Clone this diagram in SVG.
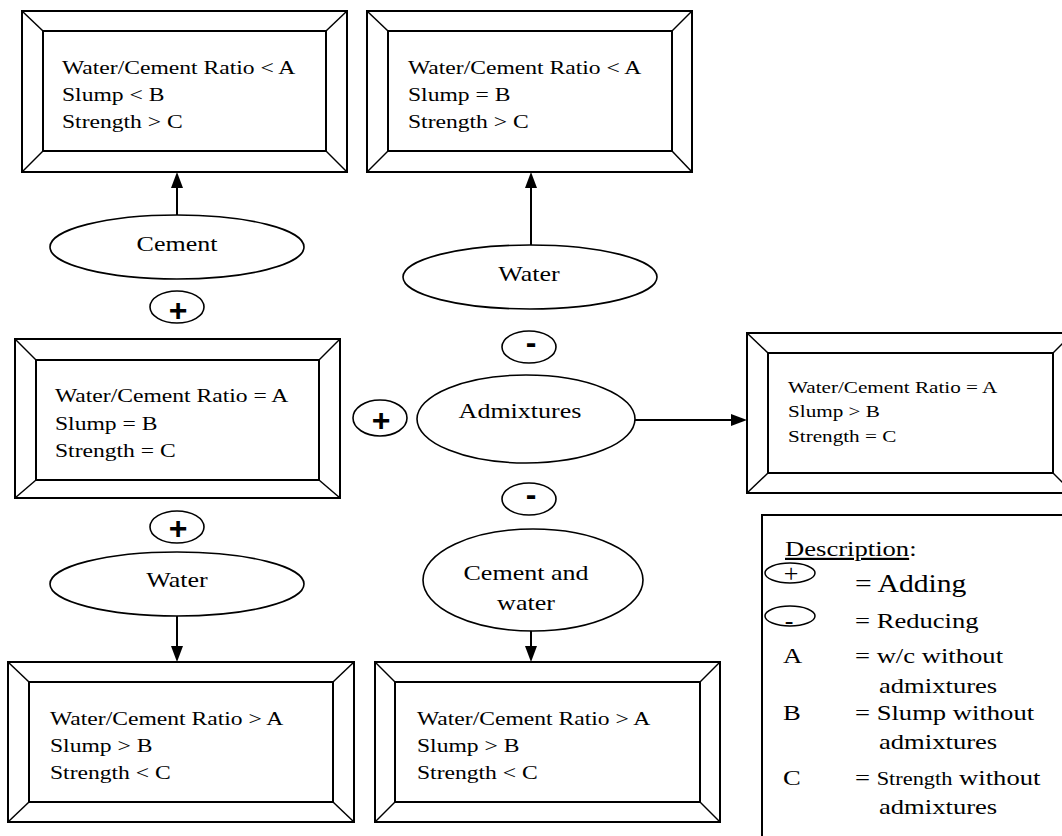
<svg xmlns="http://www.w3.org/2000/svg" width="1062" height="836" viewBox="0 0 1062 836">
<style>
.bg{fill:#fff}
.bx{fill:#fff;stroke:#000;stroke-width:2}
.bv{stroke:#000;stroke-width:1.5}
.el{fill:#fff;stroke:#000;stroke-width:1.6}
.t{font-family:"Liberation Serif","Times New Roman",serif;font-size:19.5px;fill:#000}
.ts{font-size:17.5px}
.c{text-anchor:middle;font-size:21.5px}
.op{font-family:"Liberation Sans",Arial,sans-serif;font-weight:bold;font-size:32px;text-anchor:middle;fill:#000}
.lg{font-family:"Liberation Serif","Times New Roman",serif;font-size:22px;fill:#000}
.cn line{stroke:#000;stroke-width:2;marker-end:url(#ah)}
</style>
<defs>
<marker id="ah" viewBox="0 0 16 12" refX="12" refY="6" markerWidth="16" markerHeight="12" markerUnits="userSpaceOnUse" orient="auto">
<path d="M0,0 L16,6 L0,12 z" fill="#000"/>
</marker>
</defs>
<rect class="bg" x="0" y="0" width="1062" height="836"/>

<g id="box-top-left">
<rect class="bx" x="22" y="11" width="325" height="161"/>
<rect class="bx" x="43" y="31" width="283" height="120"/>
<line class="bv" x1="22" y1="11" x2="43" y2="31"/><line class="bv" x1="347" y1="11" x2="326" y2="31"/>
<line class="bv" x1="22" y1="172" x2="43" y2="151"/><line class="bv" x1="347" y1="172" x2="326" y2="151"/>
<text class="t" transform="translate(62,74) scale(1.21,1)">Water/Cement Ratio &lt; A</text>
<text class="t" transform="translate(62,101) scale(1.21,1)">Slump &lt; B</text>
<text class="t" transform="translate(62,128) scale(1.21,1)">Strength &gt; C</text>
</g>

<g id="box-top-middle">
<rect class="bx" x="367" y="11" width="325" height="161"/>
<rect class="bx" x="388" y="31" width="284" height="120"/>
<line class="bv" x1="367" y1="11" x2="388" y2="31"/><line class="bv" x1="692" y1="11" x2="672" y2="31"/>
<line class="bv" x1="367" y1="172" x2="388" y2="151"/><line class="bv" x1="692" y1="172" x2="672" y2="151"/>
<text class="t" transform="translate(408,74) scale(1.21,1)">Water/Cement Ratio &lt; A</text>
<text class="t" transform="translate(408,101) scale(1.21,1)">Slump = B</text>
<text class="t" transform="translate(408,128) scale(1.21,1)">Strength &gt; C</text>
</g>

<g id="box-middle-left">
<rect class="bx" x="15" y="339" width="325" height="159"/>
<rect class="bx" x="36" y="360" width="283" height="120"/>
<line class="bv" x1="15" y1="339" x2="36" y2="360"/><line class="bv" x1="340" y1="339" x2="319" y2="360"/>
<line class="bv" x1="15" y1="498" x2="36" y2="480"/><line class="bv" x1="340" y1="498" x2="319" y2="480"/>
<text class="t" transform="translate(55,402) scale(1.21,1)">Water/Cement Ratio = A</text>
<text class="t" transform="translate(55,430) scale(1.21,1)">Slump = B</text>
<text class="t" transform="translate(55,457) scale(1.21,1)">Strength = C</text>
</g>

<g id="box-bottom-left">
<rect class="bx" x="8" y="662" width="346" height="160"/>
<rect class="bx" x="29" y="682" width="304" height="120"/>
<line class="bv" x1="8" y1="662" x2="29" y2="682"/><line class="bv" x1="354" y1="662" x2="333" y2="682"/>
<line class="bv" x1="8" y1="822" x2="29" y2="802"/><line class="bv" x1="354" y1="822" x2="333" y2="802"/>
<text class="t" transform="translate(50,725) scale(1.21,1)">Water/Cement Ratio &gt; A</text>
<text class="t" transform="translate(50,752) scale(1.21,1)">Slump &gt; B</text>
<text class="t" transform="translate(50,779) scale(1.21,1)">Strength &lt; C</text>
</g>

<g id="box-bottom-middle">
<rect class="bx" x="375" y="662" width="345" height="160"/>
<rect class="bx" x="395" y="682" width="305" height="120"/>
<line class="bv" x1="375" y1="662" x2="395" y2="682"/><line class="bv" x1="720" y1="662" x2="700" y2="682"/>
<line class="bv" x1="375" y1="822" x2="395" y2="802"/><line class="bv" x1="720" y1="822" x2="700" y2="802"/>
<text class="t" transform="translate(417,725) scale(1.21,1)">Water/Cement Ratio &gt; A</text>
<text class="t" transform="translate(417,752) scale(1.21,1)">Slump &gt; B</text>
<text class="t" transform="translate(417,779) scale(1.21,1)">Strength &lt; C</text>
</g>

<g id="box-right">
<rect class="bx" x="747" y="333" width="326" height="160"/>
<rect class="bx" x="768" y="353" width="285" height="120"/>
<line class="bv" x1="747" y1="333" x2="768" y2="353"/><line class="bv" x1="1073" y1="333" x2="1053" y2="353"/>
<line class="bv" x1="747" y1="493" x2="768" y2="473"/><line class="bv" x1="1073" y1="493" x2="1053" y2="473"/>
<text class="t ts" transform="translate(788,393) scale(1.21,1)">Water/Cement Ratio = A</text>
<text class="t ts" transform="translate(788,417) scale(1.21,1)">Slump &gt; B</text>
<text class="t ts" transform="translate(788,442) scale(1.21,1)">Strength = C</text>
</g>

<g id="cement">
<ellipse class="el" cx="177" cy="247" rx="127" ry="32"/>
<text class="t c" transform="translate(177,251) scale(1.21,1)">Cement</text>
</g>
<g id="water-top">
<ellipse class="el" cx="530" cy="277" rx="127" ry="32"/>
<text class="t c" transform="translate(529,281) scale(1.21,1)">Water</text>
</g>
<g id="admixtures">
<ellipse class="el" cx="526" cy="419" rx="109" ry="44"/>
<text class="t c" transform="translate(520,418) scale(1.21,1)">Admixtures</text>
</g>
<g id="water-bottom">
<ellipse class="el" cx="177" cy="584" rx="127" ry="32"/>
<text class="t c" transform="translate(177,587) scale(1.21,1)">Water</text>
</g>
<g id="cement-and-water">
<ellipse class="el" cx="533" cy="580" rx="110" ry="51"/>
<text class="t c" transform="translate(526,580) scale(1.21,1)">Cement and</text>
<text class="t c" transform="translate(526,610) scale(1.21,1)">water</text>
</g>

<g id="plus-1"><ellipse class="el" cx="177" cy="307" rx="27" ry="16"/><text class="op" x="178" y="321">+</text></g>
<g id="plus-2"><ellipse class="el" cx="177" cy="527" rx="27" ry="16"/><text class="op" x="178" y="539">+</text></g>
<g id="plus-3"><ellipse class="el" cx="380" cy="418" rx="27" ry="18"/><text class="op" x="381" y="431">+</text></g>
<g id="minus-1"><ellipse class="el" cx="529" cy="347" rx="27" ry="16"/><text class="op" x="531" y="353">-</text></g>
<g id="minus-2"><ellipse class="el" cx="529" cy="499" rx="27" ry="16"/><text class="op" x="531" y="505">-</text></g>

<g id="connectors" class="cn">
<line x1="177" y1="215" x2="177" y2="176"/>
<line x1="531" y1="245" x2="531" y2="176"/>
<line x1="635" y1="420" x2="743" y2="420"/>
<line x1="177" y1="616" x2="177" y2="658"/>
<line x1="531" y1="631" x2="531" y2="658"/>
</g>

<g id="legend">
<rect x="762" y="515" width="320" height="340" fill="#fff" stroke="#000" stroke-width="2"/>
<text class="lg" transform="translate(785,556) scale(1.21,1)"><tspan text-decoration="underline">Description</tspan>:</text>
<ellipse cx="790" cy="573" rx="25" ry="10" fill="none" stroke="#000" stroke-width="1.5"/>
<text class="lg" x="791" y="582" text-anchor="middle" style="font-size:26px">+</text>
<text class="lg" transform="translate(855,592) scale(1.21,1)" style="font-size:24.5px">= Adding</text>
<ellipse cx="790" cy="616" rx="25" ry="10" fill="none" stroke="#000" stroke-width="1.5"/>
<text class="lg" x="789" y="629" text-anchor="middle" style="font-size:26px">-</text>
<text class="lg" transform="translate(855,628) scale(1.21,1)">= Reducing</text>
<text class="lg" transform="translate(783,663) scale(1.21,1)">A</text>
<text class="lg" transform="translate(855,663) scale(1.21,1)">= w/c without</text>
<text class="lg" transform="translate(879,693) scale(1.21,1)">admixtures</text>
<text class="lg" transform="translate(783,720) scale(1.21,1)">B</text>
<text class="lg" transform="translate(855,720) scale(1.21,1)">= Slump without</text>
<text class="lg" transform="translate(879,749) scale(1.21,1)">admixtures</text>
<text class="lg" transform="translate(783,785) scale(1.21,1)">C</text>
<text class="lg" transform="translate(855,785) scale(1.21,1)">= <tspan style="font-size:18.5px">Strength</tspan> without</text>
<text class="lg" transform="translate(879,814) scale(1.21,1)">admixtures</text>
</g>
</svg>
